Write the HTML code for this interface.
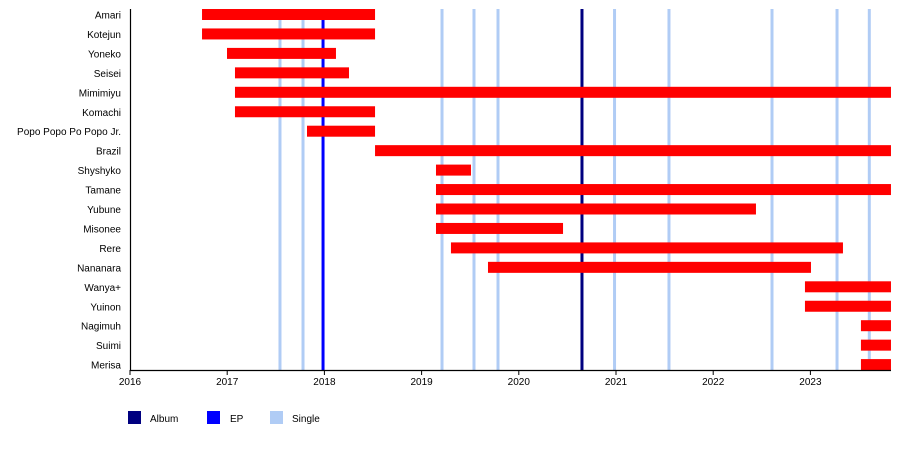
<!DOCTYPE html>
<html><head><meta charset="utf-8"><style>
body{margin:0;background:#fff}
svg{display:block;font-family:"Liberation Sans",sans-serif}
</style></head><body>
<svg id="chart" width="900" height="464"></svg>
<script>
const members=["Amari","Kotejun","Yoneko","Seisei","Mimimiyu","Komachi","Popo Popo Po Popo Jr.","Brazil","Shyshyko","Tamane","Yubune","Misonee","Rere","Nananara","Wanya+","Yuinon","Nagimuh","Suimi","Merisa"];
const starts=[2016.741,2016.741,2016.998,2017.080,2017.080,2017.080,2017.821,2018.521,2019.148,2019.148,2019.148,2019.148,2019.302,2019.683,2022.944,2022.944,2023.520,2023.520,2023.520];
const ends=[2018.521,2018.521,2018.119,2018.253,2023.829,2018.521,2018.521,2023.829,2019.508,2023.829,2022.440,2020.455,2023.335,2023.006,2023.829,2023.829,2023.829,2023.829,2023.829];
const singles=[2017.543,2017.780,2019.210,2019.539,2019.786,2020.985,2021.545,2022.605,2023.274,2023.606];
const eps=[2017.986];
const albums=[2020.650];
const years=[2016,2017,2018,2019,2020,2021,2022,2023];
const NS="http://www.w3.org/2000/svg";
const svg=document.getElementById('chart');
const x=v=>130+(v-2016)*97.2;
const y=i=>14.5+i*19.45;
function mk(t,a,p){const e=document.createElementNS(NS,t);for(const k in a)e.setAttribute(k,a[k]);(p||svg).appendChild(e);return e;}
function vline(v,c,name){const e=mk('line',{x1:x(v),x2:x(v),y1:9,y2:370,stroke:c,'stroke-width':3});

}
singles.forEach(v=>vline(v,'#b0ccf5','single-release-line'));
eps.forEach(v=>vline(v,'#0000ff','ep-release-line'));
albums.forEach(v=>vline(v,'#000080','album-release-line'));
members.forEach((m,i)=>{
const r=mk('rect',{x:x(starts[i]),y:y(i)-5.5,width:x(ends[i])-x(starts[i]),height:11,fill:'#ff0000'});


const t=mk('text',{x:121,y:y(i)+4,'text-anchor':'end','font-size':10,fill:'#000'});
t.textContent=m;


});
const ax=mk('line',{x1:130,x2:891,y1:370.5,y2:370.5,stroke:'#000','stroke-width':1.2});


const ay=mk('line',{x1:130.5,x2:130.5,y1:9,y2:371,stroke:'#000','stroke-width':1.2});


years.forEach(v=>{
mk('line',{x1:x(v),x2:x(v),y1:370,y2:375,stroke:'#000','stroke-width':1});
const t=mk('text',{x:x(v),y:385,'text-anchor':'middle','font-size':10});
t.textContent=v;


});
[["Album","#000080",128,150],["EP","#0000ff",207,230],["Single","#b0ccf5",270,292]].forEach(l=>{
const g=mk('g',{});


mk('rect',{x:l[2],y:411,width:13,height:13,fill:l[1]},g);
const t=mk('text',{x:l[3],y:422,'font-size':10},g);t.textContent=l[0];
});
</script>
</body></html>
